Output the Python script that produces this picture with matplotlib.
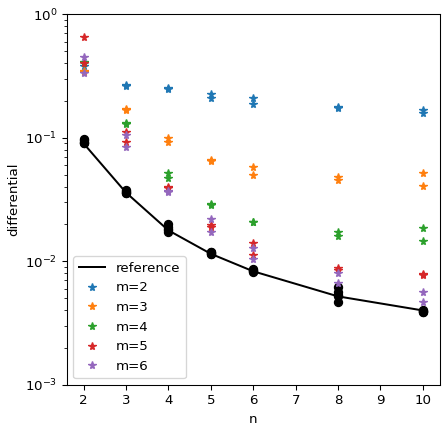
import matplotlib
matplotlib.use('Agg')
import matplotlib.pyplot as plt
import numpy as np

n_values = [2, 3, 4, 5, 6, 8, 10]

# reference curve and the reference samples (black circles)
reference = [0.090, 0.036, 0.0178, 0.0115, 0.0083, 0.0052, 0.0040]
ref_samples = [
    [0.097, 0.095, 0.093, 0.091, 0.090],
    [0.038, 0.037, 0.0365, 0.036, 0.0355],
    [0.0199, 0.019, 0.0183, 0.0178, 0.0173],
    [0.0120, 0.0118, 0.0116, 0.0115, 0.0114],
    [0.0086, 0.0085, 0.0084, 0.0083, 0.0082],
    [0.0062, 0.0056, 0.0053, 0.0052, 0.0047],
    [0.0040, 0.00398, 0.00395, 0.00392, 0.0039],
]

# two runs per m
m2_a = [0.40, 0.267, 0.251, 0.226, 0.208, 0.176, 0.169]
m2_b = [0.38, 0.262, 0.246, 0.208, 0.187, 0.173, 0.159]
m3_a = [0.342, 0.171, 0.0987, 0.066, 0.0576, 0.0484, 0.0514]
m3_b = [0.345, 0.169, 0.093, 0.065, 0.0502, 0.0453, 0.0407]
m4_a = [0.411, 0.132, 0.0514, 0.0291, 0.0209, 0.0174, 0.0185]
m4_b = [0.405, 0.130, 0.0468, 0.0288, 0.0207, 0.0159, 0.0145]
m5_a = [0.655, 0.111, 0.040, 0.0197, 0.0140, 0.0089, 0.0079]
m5_b = [0.40, 0.093, 0.039, 0.0190, 0.0113, 0.0085, 0.0078]
m6_a = [0.452, 0.105, 0.0366, 0.0218, 0.0129, 0.0081, 0.00569]
m6_b = [0.335, 0.0846, 0.0370, 0.0174, 0.0105, 0.00665, 0.00472]

runs = {
    2: (m2_a, m2_b),
    3: (m3_a, m3_b),
    4: (m4_a, m4_b),
    5: (m5_a, m5_b),
    6: (m6_a, m6_b),
}

dpi = 96
fig = plt.figure(figsize=(447 / dpi, 430 / dpi), dpi=dpi)
ax = fig.add_subplot()
fig.subplots_adjust(left=0.149, right=0.984, top=0.967, bottom=0.105)

ax.plot(n_values, reference, 'k-', label='reference')
for n, vals in zip(n_values, ref_samples):
    ax.plot([n] * len(vals), vals, 'ko')

for m, (a, b) in runs.items():
    xs = n_values + n_values
    ys = a + b
    ax.plot(xs, ys, '*', linestyle='none', label='m=%d' % m)

ax.set_yscale('log')
ax.set_ylim(1e-3, 1e0)
ax.set_xticks(range(2, 11))
ax.set_xlabel('n')
ax.set_ylabel('differential')
ax.legend(loc='lower left')

fig.savefig('out.png', dpi=dpi)
